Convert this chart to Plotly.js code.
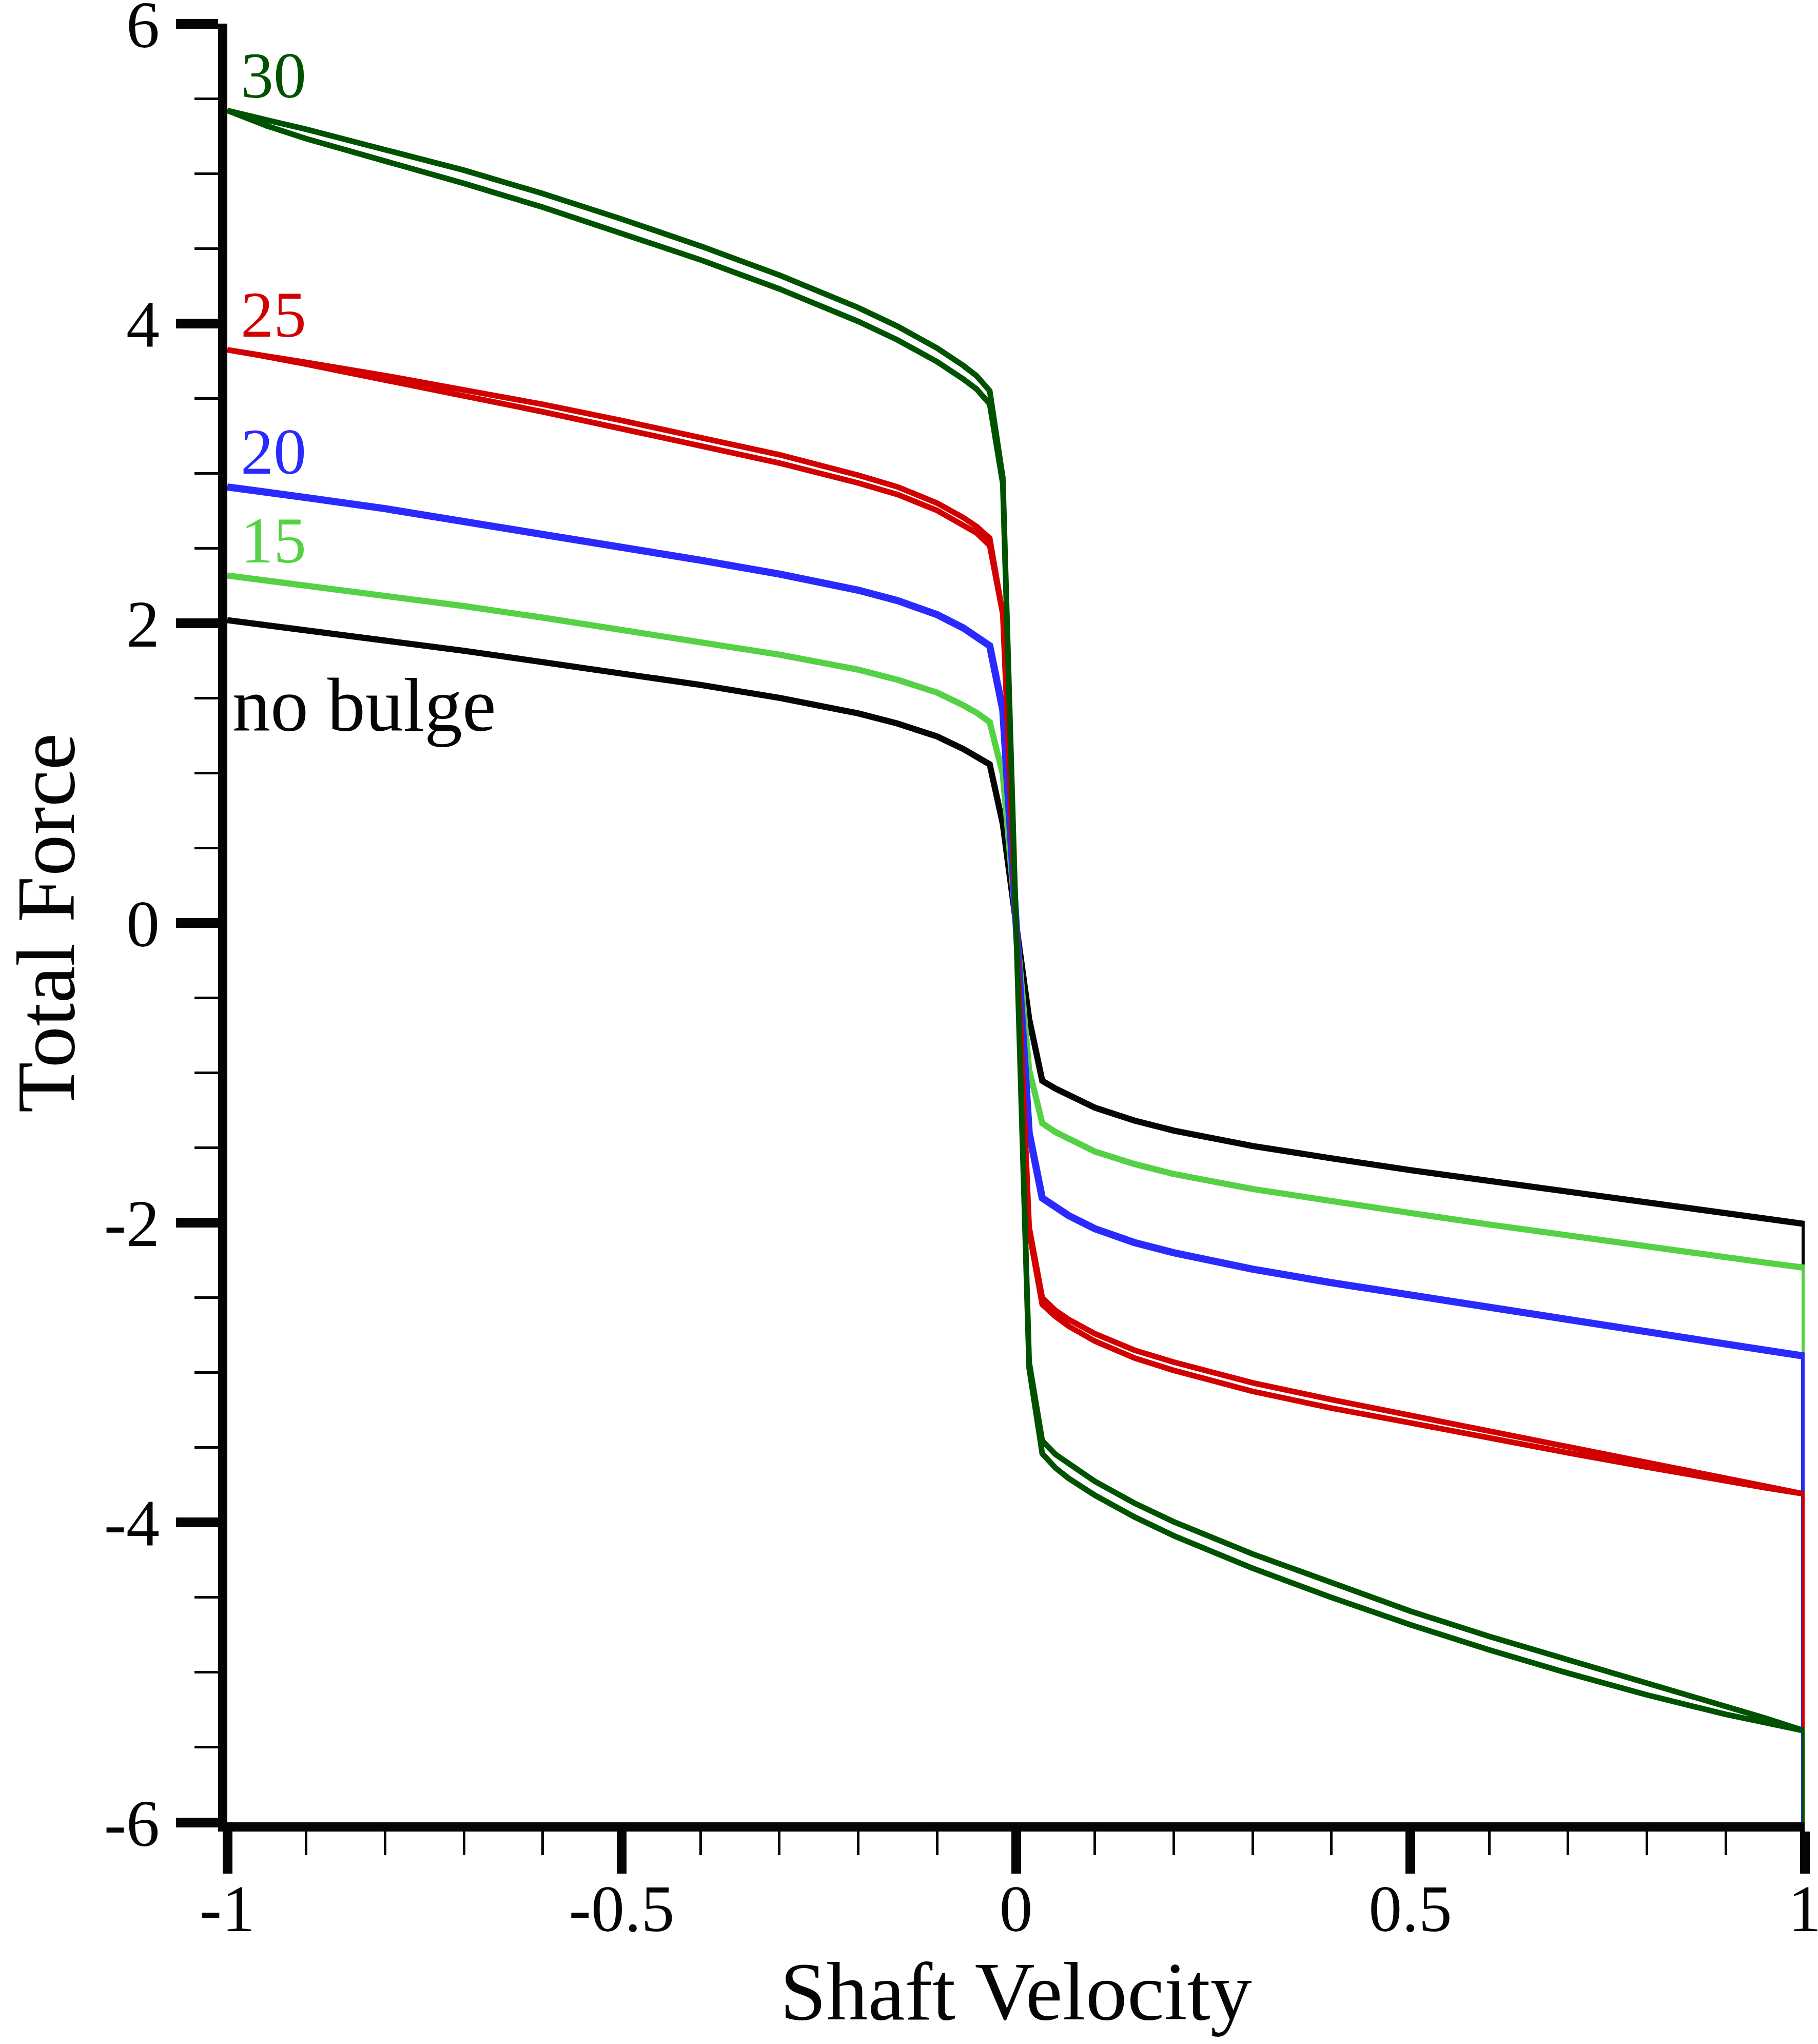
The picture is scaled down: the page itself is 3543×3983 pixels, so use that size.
<!DOCTYPE html>
<html>
<head>
<meta charset="utf-8">
<script src="https://cdn.plot.ly/plotly-3.0.1.min.js"></script>
<style>
  html, body { margin: 0; padding: 0; background: #fff; }
  #chart { width: 3543px; height: 3983px; }
</style>
</head>
<body>
<div id="chart"></div>
<script>
// shaft velocity samples shared by every loop
const velocity = [-1, -0.95, -0.9, -0.8, -0.7, -0.6, -0.5, -0.4, -0.3, -0.2, -0.15, -0.1, -0.0667, -0.05, -0.0333, -0.0167,
  0, 0.0167, 0.0333, 0.05, 0.0667, 0.1, 0.15, 0.2, 0.3, 0.4, 0.5, 0.6, 0.7, 0.8, 0.9, 0.95, 1];

// total force, single branch curves
const forceNoBulge = [2.02, 1.986, 1.952, 1.884, 1.816, 1.745, 1.666, 1.588, 1.502, 1.398, 1.330, 1.244, 1.160, 1.112, 1.058, 0.66,
  0, -0.64, -1.053, -1.105, -1.150, -1.232, -1.318, -1.385, -1.488, -1.570, -1.649, -1.722, -1.795, -1.866, -1.937, -1.972, -2.008];
const forceBulge15 = [2.318, 2.285, 2.252, 2.184, 2.114, 2.037, 1.955, 1.875, 1.790, 1.690, 1.622, 1.537, 1.452, 1.403, 1.340, 0.99,
  0, -0.98, -1.336, -1.395, -1.442, -1.525, -1.608, -1.675, -1.775, -1.857, -1.935, -2.012, -2.087, -2.160, -2.231, -2.266, -2.300];
const forceBulge20 = [2.909, 2.874, 2.838, 2.764, 2.686, 2.596, 2.506, 2.420, 2.328, 2.220, 2.150, 2.057, 1.968, 1.914, 1.849, 1.42,
  0, -1.40, -1.835, -1.898, -1.952, -2.040, -2.132, -2.200, -2.310, -2.400, -2.483, -2.568, -2.650, -2.730, -2.810, -2.850, -2.890];

// total force, two branches of the hysteresis loop
const forceBulge25Out = [3.824, 3.782, 3.740, 3.652, 3.558, 3.460, 3.352, 3.241, 3.124, 2.987, 2.909, 2.801, 2.704, 2.645, 2.567, 2.06,
  0, -2.03, -2.500, -2.585, -2.645, -2.740, -2.850, -2.930, -3.068, -3.180, -3.280, -3.390, -3.495, -3.600, -3.705, -3.757, -3.810];
const forceBulge25Back = [3.824, 3.778, 3.728, 3.625, 3.520, 3.410, 3.297, 3.185, 3.068, 2.935, 2.858, 2.752, 2.658, 2.602, 2.518, 2.06,
  0, -2.06, -2.545, -2.625, -2.690, -2.790, -2.902, -2.985, -3.125, -3.237, -3.335, -3.438, -3.535, -3.630, -3.725, -3.768, -3.810];
const forceBulge30Out = [5.42, 5.357, 5.295, 5.163, 5.022, 4.866, 4.696, 4.516, 4.322, 4.105, 3.980, 3.835, 3.718, 3.650, 3.550, 2.97,
  0, -2.93, -3.455, -3.545, -3.612, -3.725, -3.870, -3.995, -4.210, -4.405, -4.591, -4.760, -4.920, -5.075, -5.228, -5.305, -5.390];
const forceBulge30Back = [5.42, 5.318, 5.232, 5.083, 4.934, 4.775, 4.602, 4.424, 4.230, 4.013, 3.889, 3.744, 3.628, 3.562, 3.462, 2.93,
  0, -2.97, -3.540, -3.635, -3.705, -3.818, -3.962, -4.088, -4.305, -4.500, -4.682, -4.850, -5.005, -5.150, -5.280, -5.335, -5.390];

// each loop starts below the axis at full velocity
const loopStartForce = -6.6;

const curveLabels = ['no bulge', '15', '20', '25', '30'];

const xTickVals = [-1, -0.5, 0, 0.5, 1];
const xTickText = ['-1', '-0.5', '0', '0.5', '1'];
const yTickVals = [-6, -4, -2, 0, 2, 4, 6];
const yTickText = ['-6', '-4', '-2', '0', '2', '4', '6'];

const FONT = '"Liberation Serif", "DejaVu Serif", serif';

const curves = [
  { out: forceNoBulge, back: null, color: '#050505', width: 12 },
  { out: forceBulge15, back: null, color: '#54d145', width: 12 },
  { out: forceBulge20, back: null, color: '#2a2aff', width: 14 },
  { out: forceBulge25Out, back: forceBulge25Back, color: '#d20000', width: 11 },
  { out: forceBulge30Out, back: forceBulge30Back, color: '#005200', width: 11 },
];

const rev = a => a.slice().reverse();

const traces = curves.map(c => {
  // start at v = 1, run back to v = -1, then (for loops) forward again
  let x = [1].concat(rev(velocity));
  let y = [loopStartForce].concat(rev(c.out));
  if (c.back) {
    x = x.concat(velocity);
    y = y.concat(c.back);
  }
  return {
    x: x, y: y,
    type: 'scatter', mode: 'lines',
    line: { color: c.color, width: c.width },
    hoverinfo: 'skip', showlegend: false,
  };
});

const annotations = curves.map((c, i) => {
  const isBase = i === 0;
  return {
    x: -1, xref: 'x', xanchor: 'left', xshift: isBase ? 8 : 24,
    y: isBase ? c.out[0] - 0.565 : c.out[0] + 0.235, yref: 'y', yanchor: 'middle',
    text: curveLabels[i], showarrow: false,
    font: { family: FONT, size: isBase ? 148 : 128, color: c.color },
  };
});

const axisCommon = {
  showgrid: false, zeroline: false,
  showline: true, linecolor: '#050505', linewidth: 18,
  ticks: 'outside', ticklen: 82, tickwidth: 19, tickcolor: '#050505',
  tickmode: 'array',
  ticklabeloverflow: 'allow',
  tickfont: { family: FONT, size: 130, color: '#050505' },
};

const layout = {
  width: 3543, height: 3983,
  margin: { l: 443, r: 26, t: 46, b: 432 },
  paper_bgcolor: '#ffffff', plot_bgcolor: '#ffffff',
  showlegend: false,
  xaxis: Object.assign({}, axisCommon, {
    range: [-1, 1], tickvals: xTickVals, ticktext: xTickText,
    ticklabelstandoff: -44,
    minor: { tickmode: 'linear', tick0: -1, dtick: 0.1, ticks: 'outside', ticklen: 46, tickwidth: 5, tickcolor: '#050505' },
    title: { text: 'Shaft Velocity', font: { family: FONT, size: 162, color: '#050505' }, standoff: 22 },
  }),
  yaxis: Object.assign({}, axisCommon, {
    range: [-6, 6], tickvals: yTickVals, ticktext: yTickText,
    ticklabelstandoff: 6,
    minor: { tickmode: 'linear', tick0: -6, dtick: 0.5, ticks: 'outside', ticklen: 46, tickwidth: 5, tickcolor: '#050505' },
    title: { text: 'Total Force', font: { family: FONT, size: 162, color: '#050505' }, standoff: 85 },
  }),
  annotations: annotations,
};

Plotly.newPlot('chart', traces, layout, { staticPlot: true, displayModeBar: false });
</script>
</body>
</html>
